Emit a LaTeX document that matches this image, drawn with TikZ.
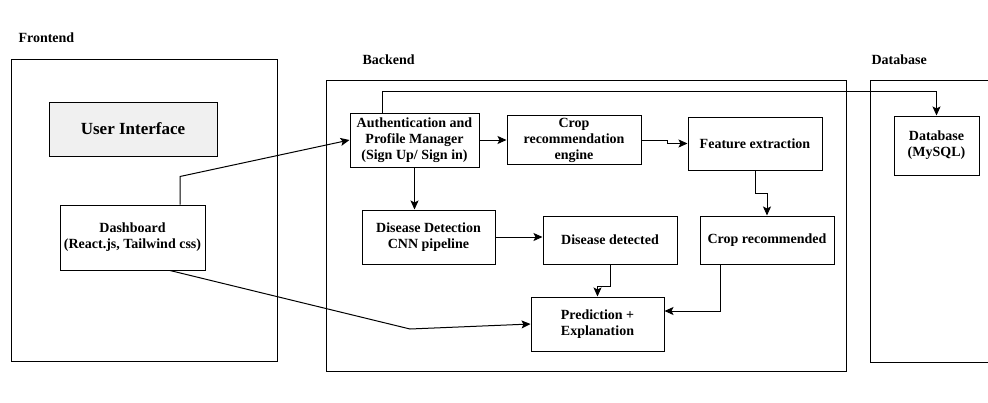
\documentclass[tikz,border=0pt]{standalone}
\usepackage{fontspec}
\setmainfont{Liberation Serif}
\usepackage{tikz}
\usetikzlibrary{arrows,arrows.meta,positioning,calc}
\definecolor{uigray}{RGB}{240,240,240}
\tikzstyle{box} = [draw, line width=1pt, align=center, inner sep=2pt, font=\bfseries\fontsize{14}{16}\selectfont]
\tikzstyle{group} = [draw, line width=1pt]
\tikzstyle{title} = [anchor=west, font=\bfseries\fontsize{14}{16}\selectfont]
\tikzstyle{arrow} = [line width=1pt,->,>={Stealth[length=9pt,width=8pt,inset=2pt]}]

\begin{document}
\begin{tikzpicture}[x=1pt, y=-1pt]
\useasboundingbox (0,0) rectangle (988,402);
% Groups
\node[title] (fronttitle) at (15,38) {Frontend};
\node[title] (backtitle) at (359,60) {Backend};
\node[title] (dbtitle) at (868,60) {Database};
\draw[group] (11,59) rectangle (277,361);
\draw[group] (326,80) rectangle (846,371);
\draw[group] (990,80) -- (870,80) -- (870,362) -- (990,362);

% Frontend
\node[box, fill=uigray, minimum width=168, minimum height=54, font=\bfseries\fontsize{17}{19}\selectfont] (ui) at (133,129) {User Interface};
\node[box, minimum width=145, minimum height=65] (dash) at (132.5,237.5) {Dashboard\\(React.js, Tailwind css)};

% Backend
\node[box, minimum width=129, minimum height=54] (auth) at (414.5,140) {Authentication and\\Profile Manager\\(Sign Up/ Sign in)};
\node[box, minimum width=134, minimum height=48] (engine) at (574,140) {Crop\\recommendation\\engine};
\node[box, minimum width=134, minimum height=53] (feat) at (755,143.5) {Feature extraction};
\node[box, minimum width=133, minimum height=54] (cnn) at (428.5,237) {Disease Detection\\CNN pipeline};
\node[box, minimum width=134, minimum height=48] (detected) at (610,240) {Disease detected};
\node[box, minimum width=134, minimum height=48] (croprec) at (767,240) {Crop recommended};
\node[box, minimum width=133, minimum height=54] (pred) at (597.5,324) {Prediction +\\Explanation};

% Database
\node[box, minimum width=85, minimum height=59] (mysql) at (936.5,145.5) {Database\\(MySQL)};

% Connections
\draw[arrow] ([xshift=47.5pt]dash.north) -- ++(0,-28) -- (auth.west);
\draw[arrow] ([xshift=37.5pt]dash.south) -- (410,329) -- (pred.west);
\draw[arrow] ([xshift=-32.5pt]auth.north) -- ++(0,-21) -| (mysql.north);
\draw[arrow] (auth.east) -- (engine.west);
\draw[arrow] (engine.east) -- ++(26,0) |- (feat.west);
\draw[arrow] (feat.south) -- ++(0,23) -| (croprec.north);
\draw[arrow] (auth.south) -- (auth.south |- cnn.north);
\draw[arrow] (cnn.east) -- (cnn.east -| detected.west);
\draw[arrow] (detected.south) -- ++(0,22) -| (pred.north);
\draw[arrow] ([xshift=-47pt]croprec.south) |- ([yshift=13pt]pred.east);
\end{tikzpicture}
\end{document}
